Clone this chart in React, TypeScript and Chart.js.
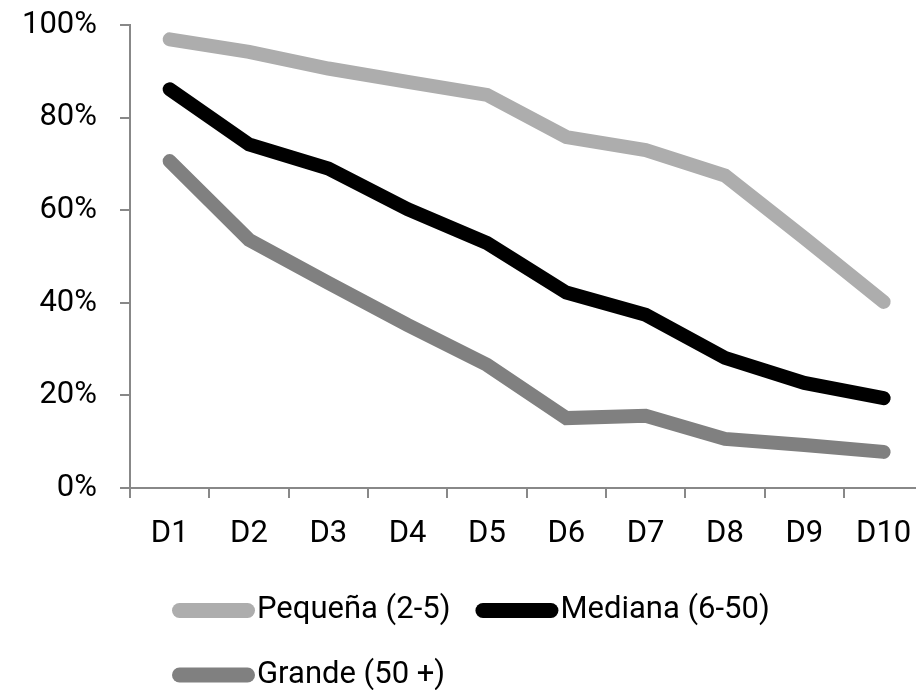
import React, { useEffect, useRef } from "react";
import { Chart, registerables } from "chart.js";

Chart.register(...registerables);

const categories = ["D1", "D2", "D3", "D4", "D5", "D6", "D7", "D8", "D9", "D10"];
const seriesNames = ["Pequeña (2-5)", "Mediana (6-50)", "Grande (50 +)"];
const pequena = [96.9, 94.2, 90.6, 87.7, 84.9, 75.8, 73.0, 67.5, 54.0, 40.2];
const mediana = [86.1, 74.2, 69.0, 60.2, 52.9, 42.2, 37.4, 28.1, 22.7, 19.4];
const grande = [70.6, 53.6, 44.3, 35.2, 26.6, 15.1, 15.6, 10.6, 9.3, 7.8];
const yTicks = [0, 20, 40, 60, 80, 100];
const seriesColors = ["#ADADAD", "#000000", "#808080"];

const FONT_FAMILY = "Roboto, 'Open Sans', sans-serif";
const FONT_SIZE = 31;
const AXIS_COLOR = "#888888";

const customLegend = {
  id: "customLegend",
  afterDraw(chart: any) {
    const ctx = chart.ctx;
    const startX = 172;
    const maxRight = 800;
    const rowYs = [610.5, 675];
    const sampleLen = 83;
    const sampleWidth = 15;
    const gap = 25;
    ctx.save();
    ctx.font = `${FONT_SIZE}px ${FONT_FAMILY}`;
    ctx.textBaseline = "middle";
    ctx.textAlign = "left";
    let x = startX;
    let row = 0;
    chart.data.datasets.forEach((ds: any) => {
      const label = ds.label as string;
      const w = sampleLen + 2 + ctx.measureText(label).width;
      if (x + w > maxRight && x !== startX) {
        row += 1;
        x = startX;
      }
      const y = rowYs[Math.min(row, rowYs.length - 1)];
      ctx.strokeStyle = ds.borderColor;
      ctx.lineWidth = sampleWidth;
      ctx.lineCap = "round";
      ctx.beginPath();
      ctx.moveTo(x + sampleWidth / 2, y);
      ctx.lineTo(x + sampleLen - sampleWidth / 2, y);
      ctx.stroke();
      ctx.fillStyle = "#000000";
      ctx.fillText(label, x + sampleLen + 2, y);
      x += w + gap;
    });
    ctx.restore();
  },
};

export default function App() {
  const canvasRef = useRef<HTMLCanvasElement | null>(null);

  useEffect(() => {
    if (!canvasRef.current) return;
    const values = [pequena, mediana, grande];
    const chart = new Chart(canvasRef.current, {
      type: "line",
      data: {
        labels: categories,
        datasets: seriesNames.map((name, i) => ({
          label: name,
          data: values[i],
          borderColor: seriesColors[i],
          backgroundColor: seriesColors[i],
          borderWidth: 14,
          borderCapStyle: "round" as const,
          borderJoinStyle: "miter" as const,
          pointRadius: 0,
          pointHoverRadius: 0,
          tension: 0,
          fill: false,
          clip: false as any,
        })),
      },
      options: {
        responsive: false,
        animation: false,
        devicePixelRatio: 1,
        layout: { padding: { top: 25, right: 16.7, bottom: 142, left: 0 } },
        plugins: {
          legend: { display: false },
          tooltip: { enabled: false },
        },
        scales: {
          x: {
            type: "category",
            offset: true,
            grid: {
              offset: true,
              drawOnChartArea: false,
              drawTicks: true,
              tickLength: 10,
              color: AXIS_COLOR,
              lineWidth: 2,
            },
            border: { display: true, color: AXIS_COLOR, width: 2 },
            ticks: {
              color: "#000000",
              padding: 18,
              maxRotation: 0,
              autoSkip: false,
              font: { family: FONT_FAMILY, size: FONT_SIZE },
            },
            afterFit(scale: any) {
              scale.height = 60;
            },
          },
          y: {
            min: 0,
            max: 100,
            afterBuildTicks(scale: any) {
              scale.ticks = yTicks.map((v) => ({ value: v }));
            },
            grid: {
              drawOnChartArea: false,
              drawTicks: true,
              tickLength: 10,
              color: AXIS_COLOR,
              lineWidth: 2,
            },
            border: { display: true, color: AXIS_COLOR, width: 2 },
            ticks: {
              color: "#000000",
              padding: 23,
              font: { family: FONT_FAMILY, size: FONT_SIZE },
              callback: (v: any) => `${v}%`,
            },
            afterFit(scale: any) {
              scale.width = 130;
              scale.paddingTop = 0;
              scale.paddingBottom = 0;
            },
          },
        },
      },
      plugins: [customLegend],
    });
    return () => chart.destroy();
  }, []);

  return (
    <div
      style={{
        position: "absolute",
        left: 0,
        top: 0,
        width: 916,
        height: 690,
        overflow: "hidden",
        background: "#ffffff",
      }}
    >
      <canvas
        ref={canvasRef}
        width={940}
        height={690}
        style={{ width: 940, height: 690, display: "block" }}
      />
    </div>
  );
}
